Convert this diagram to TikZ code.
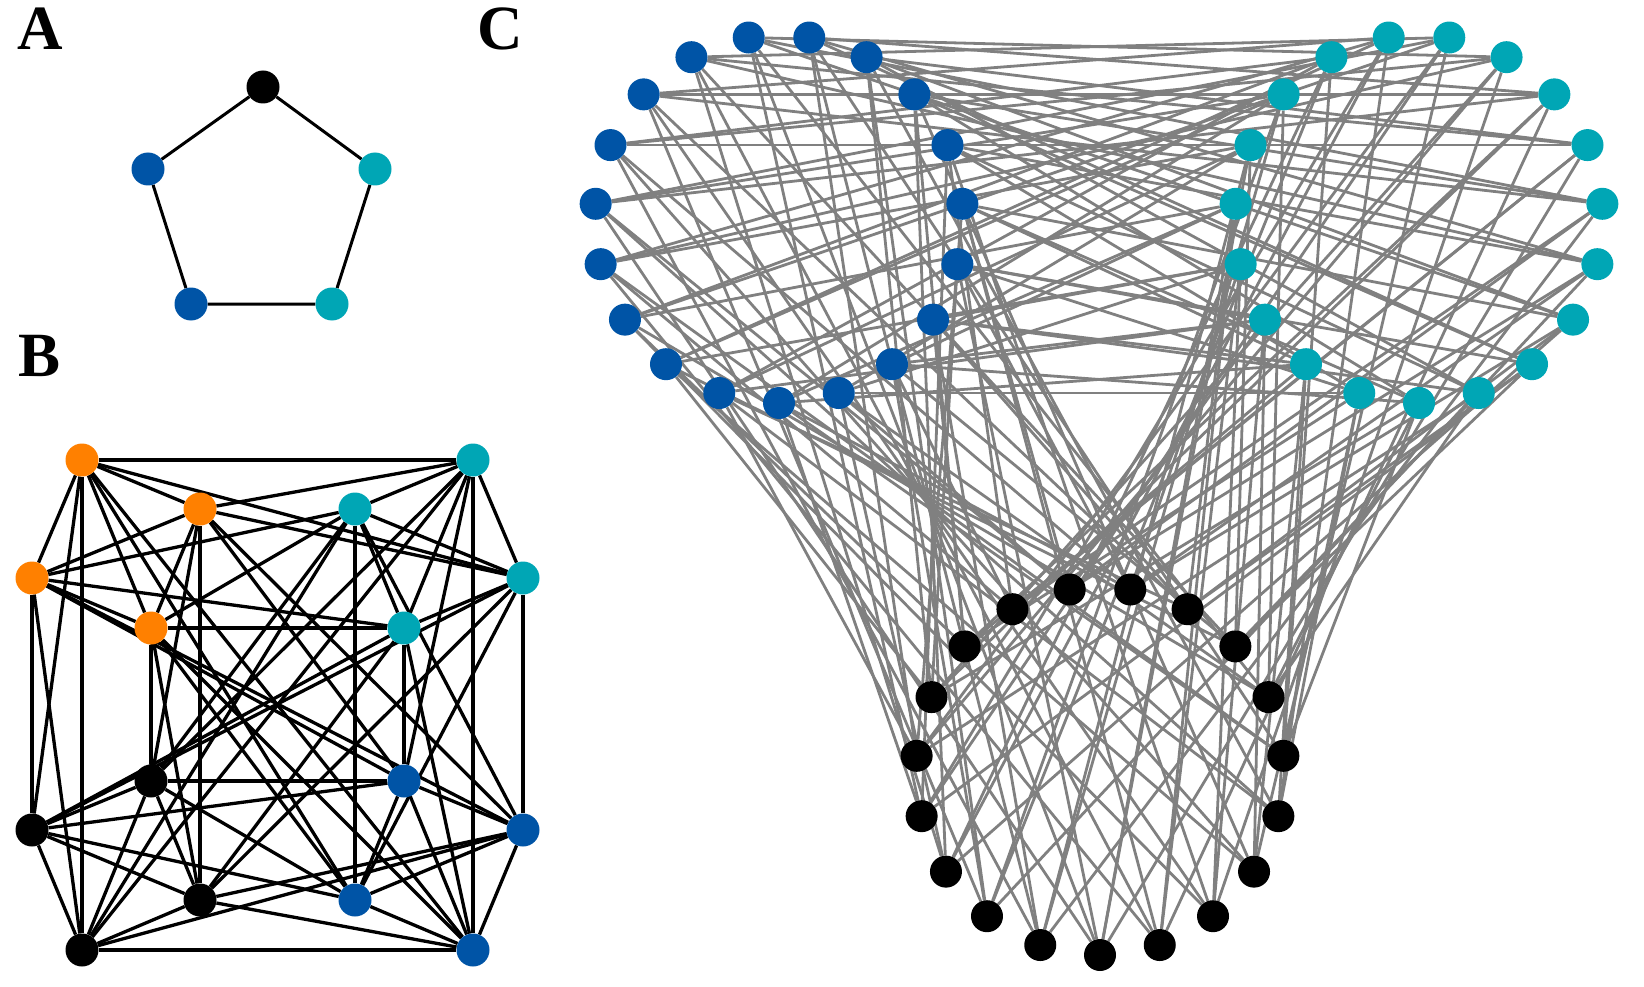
\documentclass[tikz,border=0pt]{standalone}
\usepackage{fontspec}
\setmainfont{Liberation Serif}
\pgfdeclarelayer{bg}
\pgfsetlayers{bg,main}
\definecolor{cblue}{RGB}{0,84,166}
\definecolor{ccyan}{RGB}{0,166,181}
\definecolor{corange}{RGB}{255,128,0}
\definecolor{cgray}{RGB}{128,128,128}
\begin{document}
\begin{tikzpicture}[x=1pt,y=-1pt,
  vtx/.style={circle,inner sep=0pt,minimum size=33pt,fill=#1},
  cvtx/.style={circle,inner sep=0pt,minimum size=32pt,fill=#1},
  aedge/.style={line width=3pt,black},
  bedge/.style={line width=3.3pt,black},
  gedge/.style={line width=2.8pt,cgray},
  lbl/.style={font=\fontsize{63}{68}\selectfont\bfseries,inner sep=0pt,anchor=base west}]
\useasboundingbox (0,0) rectangle (1644,987);
% labels
\node[lbl] (la) at (17,50) {A};
\node[lbl] (lb) at (18,376) {B};
\node[lbl] (lc) at (477,50) {C};
% ---------- A ----------
\node[vtx=black] (a1) at (263,87) {};
\node[vtx=cblue] (a2) at (148,169) {};
\node[vtx=ccyan] (a3) at (375,169) {};
\node[vtx=cblue] (a4) at (191,304) {};
\node[vtx=ccyan] (a5) at (332,304) {};
\begin{pgfonlayer}{bg}
\draw[aedge] (a1)--(a2)--(a4)--(a5)--(a3)--(a1);
\end{pgfonlayer}
% ---------- B ----------
\node[vtx=corange] (g11) at (82,460) {};
\node[vtx=ccyan]   (g43) at (473,460) {};
\node[vtx=ccyan]   (g34) at (523,578) {};
\node[vtx=cblue]   (g41) at (523,830) {};
\node[vtx=cblue]   (g32) at (473,950) {};
\node[vtx=black]   (g24) at (82,950) {};
\node[vtx=black]   (g42) at (32,830) {};
\node[vtx=corange] (g33) at (32,578) {};
\node[vtx=corange] (g22) at (200,509) {};
\node[vtx=ccyan]   (g12) at (355,509) {};
\node[vtx=ccyan]   (g21) at (404,628) {};
\node[vtx=cblue]   (g14) at (404,781) {};
\node[vtx=cblue]   (g23) at (355,900) {};
\node[vtx=black]   (g13) at (200,900) {};
\node[vtx=black]   (g31) at (151,781) {};
\node[vtx=corange] (g44) at (151,628) {};
\begin{pgfonlayer}{bg}
\foreach \ra in {1,...,4}{\foreach \ca in {1,...,4}{\foreach \rb in {1,...,4}{\foreach \cb in {1,...,4}{%
  \ifnum\ra<\rb\relax\ifnum\ca=\cb\relax\else\draw[bedge] (g\ra\ca)--(g\rb\cb);\fi\fi}}}}
\end{pgfonlayer}
% ---------- C ----------
\foreach \k in {0,...,18}{
  \node[cvtx=cblue] (u\k) at ({779+184*sin(\k*360/19)},{219+184*cos(\k*360/19)}) {};
  \node[cvtx=ccyan] (v\k) at ({1419+184*sin(\k*360/19)},{219+184*cos(\k*360/19)}) {};
  \node[cvtx=black] (w\k) at ({1100+184*sin(\k*360/19)},{771+184*cos(\k*360/19)}) {};
}
\begin{pgfonlayer}{bg}
\foreach \x in {0,...,18}{
  \foreach \s in {12,14,17}{\pgfmathtruncatemacro\y{mod(\x+\s,19)}\draw[gedge] (u\x)--(v\y);}
  \foreach \s in {5,9,15}{\pgfmathtruncatemacro\y{mod(\x+\s,19)}\draw[gedge] (u\x)--(w\y);}
  \foreach \s in {5,6,13}{\pgfmathtruncatemacro\y{mod(\x+\s,19)}\draw[gedge] (v\x)--(w\y);}
}
\end{pgfonlayer}
\end{tikzpicture}
\end{document}
